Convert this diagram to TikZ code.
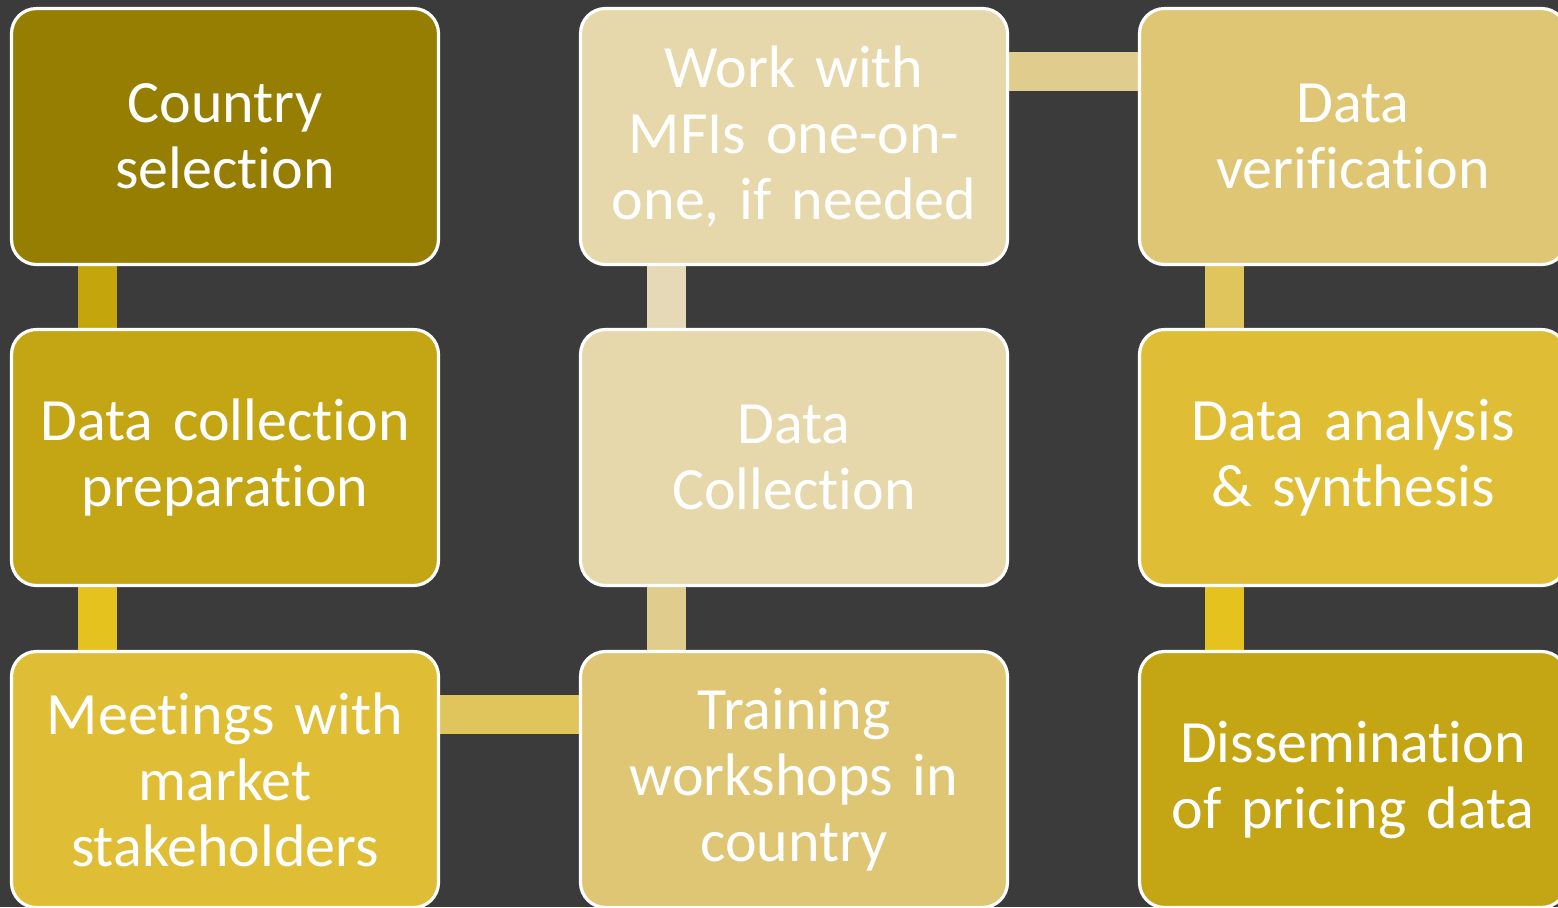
\documentclass[tikz,border=0pt]{standalone}
\usepackage{fontspec}
\setmainfont{Carlito}
\newfontfamily\boxfont{Carlito}[Ligatures={NoCommon,NoRequired,NoContextual}, WordSpace=0.8]
\usetikzlibrary{backgrounds}
\definecolor{bg}{HTML}{3B3B3B}
\definecolor{cA}{HTML}{967E03}
\definecolor{cB}{HTML}{C4A514}
\definecolor{cC}{HTML}{DFBE35}
\definecolor{cD}{HTML}{DFC674}
\definecolor{cE}{HTML}{E6D8AA}
\definecolor{kA}{HTML}{C4A60C}
\definecolor{kB}{HTML}{E6C21F}
\definecolor{kC}{HTML}{E0C45C}
\definecolor{kD}{HTML}{E0CC8C}
\definecolor{kE}{HTML}{E5D9B8}
\tikzset{
  stepbox/.style={draw=white, line width=1.6pt, rounded corners=12.5pt,
    minimum width=213.5pt, minimum height=128pt, inner sep=0pt,
    text=white, align=center, text width=208pt,
    font=\boxfont\fontsize{30}{33}\selectfont},
  conn/.style={line width=19.5pt}
}
\begin{document}
\begin{tikzpicture}[x=0.5pt,y=-0.5pt]
\useasboundingbox (0,0) rectangle (1558,907);
\begin{pgfonlayer}{background}
\fill[bg] (0,0) rectangle (1558,907);
\end{pgfonlayer}
\begin{scope}
\clip (0,0) rectangle (1558,907);
\node[stepbox, fill=cA] (a) at (225,136.5) {Country\\selection};
\node[stepbox, fill=cB] (b) at (225,457.5) {Data collection\\preparation};
\node[stepbox, fill=cC] (c) at (225,779.5) {Meetings with\\market\\stakeholders};
\node[stepbox, fill=cD] (d) at (794,779.5) {Training\\workshops in\\country};
\node[stepbox, fill=cE] (e) at (794,457.5) {Data\\Collection};
\node[stepbox, fill=cE] (f) at (794,136.5) {Work with\\MFIs one-on-\\one, if needed};
\node[stepbox, fill=cD] (g) at (1353,136.5) {Data\\verification};
\node[stepbox, fill=cC] (h) at (1353,457.5) {Data analysis\\\& synthesis};
\node[stepbox, fill=cB] (i) at (1353,779.5) {Dissemination\\of pricing data};
\end{scope}
\begin{pgfonlayer}{background}
\draw[conn, kA] ([xshift=-63.75pt]a.south) -- ([xshift=-63.75pt]b.north);
\draw[conn, kB] ([xshift=-63.75pt]b.south) -- ([xshift=-63.75pt]c.north);
\draw[conn, kC] ([yshift=32.5pt]c.east) -- ([yshift=32.5pt]d.west);
\draw[conn, kD] ([xshift=-63.75pt]d.north) -- ([xshift=-63.75pt]e.south);
\draw[conn, kE] ([xshift=-63.75pt]e.north) -- ([xshift=-63.75pt]f.south);
\draw[conn, kD] ([yshift=32.5pt]f.east) -- ([yshift=32.5pt]g.west);
\draw[conn, kC] ([xshift=-64.25pt]g.south) -- ([xshift=-64.25pt]h.north);
\draw[conn, kB] ([xshift=-64.25pt]h.south) -- ([xshift=-64.25pt]i.north);
\end{pgfonlayer}
\end{tikzpicture}
\end{document}
